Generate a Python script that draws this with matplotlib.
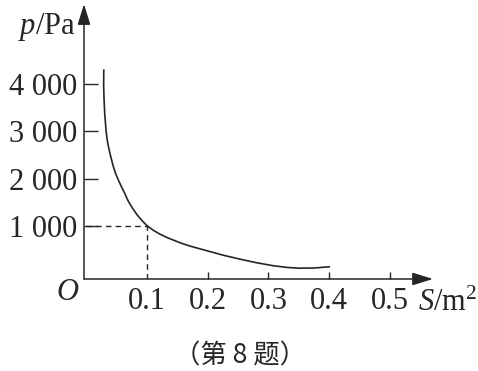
import matplotlib
matplotlib.use("Agg")
import matplotlib.pyplot as plt

plt.rcParams['font.family'] = ['Liberation Serif', 'DejaVu Serif']
plt.rcParams['mathtext.fontset'] = 'custom'
plt.rcParams['mathtext.rm'] = 'Liberation Serif'
plt.rcParams['mathtext.it'] = 'Liberation Serif:italic'

# p-S curve, values
area_m2 = [0.0286, 0.0284, 0.0290, 0.0303, 0.0325, 0.0345, 0.0369, 0.040, 0.044, 0.048,
           0.053, 0.058, 0.063, 0.069, 0.076, 0.083, 0.091, 0.100, 0.110, 0.121,
           0.132, 0.143, 0.156, 0.170, 0.198, 0.225, 0.253, 0.280, 0.308, 0.330,
           0.350, 0.375, 0.400]
pressure_pa = [4300, 4000, 3700, 3350, 3000, 2800, 2640, 2470, 2270, 2110,
               1960, 1820, 1690, 1520, 1370, 1240, 1115, 1000, 905, 822,
               753, 696, 630, 570, 470, 375, 290, 215, 150, 115,
               98, 102, 128]

x_ticks = [0.1, 0.2, 0.3, 0.4, 0.5]
x_tick_labels = ['0.1', '0.2', '0.3', '0.4', '0.5']
y_ticks = [1000, 2000, 3000, 4000]
y_tick_labels = ['1 000', '2 000', '3 000', '4 000']

mark_s = 0.1      # dashed guide point
mark_p = 1000

ink = '#262626'

fig = plt.figure(figsize=(4.78, 3.71), dpi=100)
ax = fig.add_axes([0.1757, 0.248, 0.7301, 0.741])
ax.set_xlim(-0.004, 0.571)
ax.set_ylim(-131, 5703)

for s in ax.spines.values():
    s.set_visible(False)

# axes with arrow heads
arrow = dict(arrowstyle='-|>,head_length=0.9,head_width=0.28', color=ink, lw=1.1,
             shrinkA=0, shrinkB=0, mutation_scale=14)
ax.annotate('', xy=(1, 0), xytext=(0, 0), xycoords='axes fraction', arrowprops=arrow)
ax.annotate('', xy=(0, 1), xytext=(0, 0), xycoords='axes fraction', arrowprops=arrow)

ax.plot(area_m2, pressure_pa, color=ink, lw=1.2)

ax.plot([0, mark_s], [mark_p, mark_p], color=ink, lw=1.0, dashes=(4, 3))
ax.plot([mark_s, mark_s], [-131, mark_p], color=ink, lw=1.0, dashes=(4, 3))

ax.set_xticks(x_ticks)
ax.set_xticklabels(x_tick_labels)
ax.set_yticks(y_ticks)
ax.set_yticklabels(y_tick_labels)
ax.tick_params(axis='x', direction='in', length=5, width=1, pad=6, labelsize=22, colors=ink)
ax.tick_params(axis='y', direction='in', length=10, width=1, pad=5, labelsize=22, colors=ink)
ax.xaxis.get_major_ticks()[0].tick1line.set_visible(False)

fig.text(68 / 478, 1 - 293 / 371, '$O$', fontsize=22, color=ink, ha='center', va='center')
fig.text(418 / 478, 1 - 303 / 371, '$S$/m$^2$', fontsize=22, color=ink, ha='left', va='center')
fig.text(76 / 478, 1 - 27 / 371, '$p$/Pa', fontsize=22, color=ink, ha='right', va='center')
fig.text(240 / 478, 1 - 356 / 371, '（第 8 题）', fontsize=19, color=ink, ha='center', va='center',
         family=['Noto Sans CJK SC', 'DejaVu Sans'])

fig.savefig('out.png', dpi=100, facecolor='white')
